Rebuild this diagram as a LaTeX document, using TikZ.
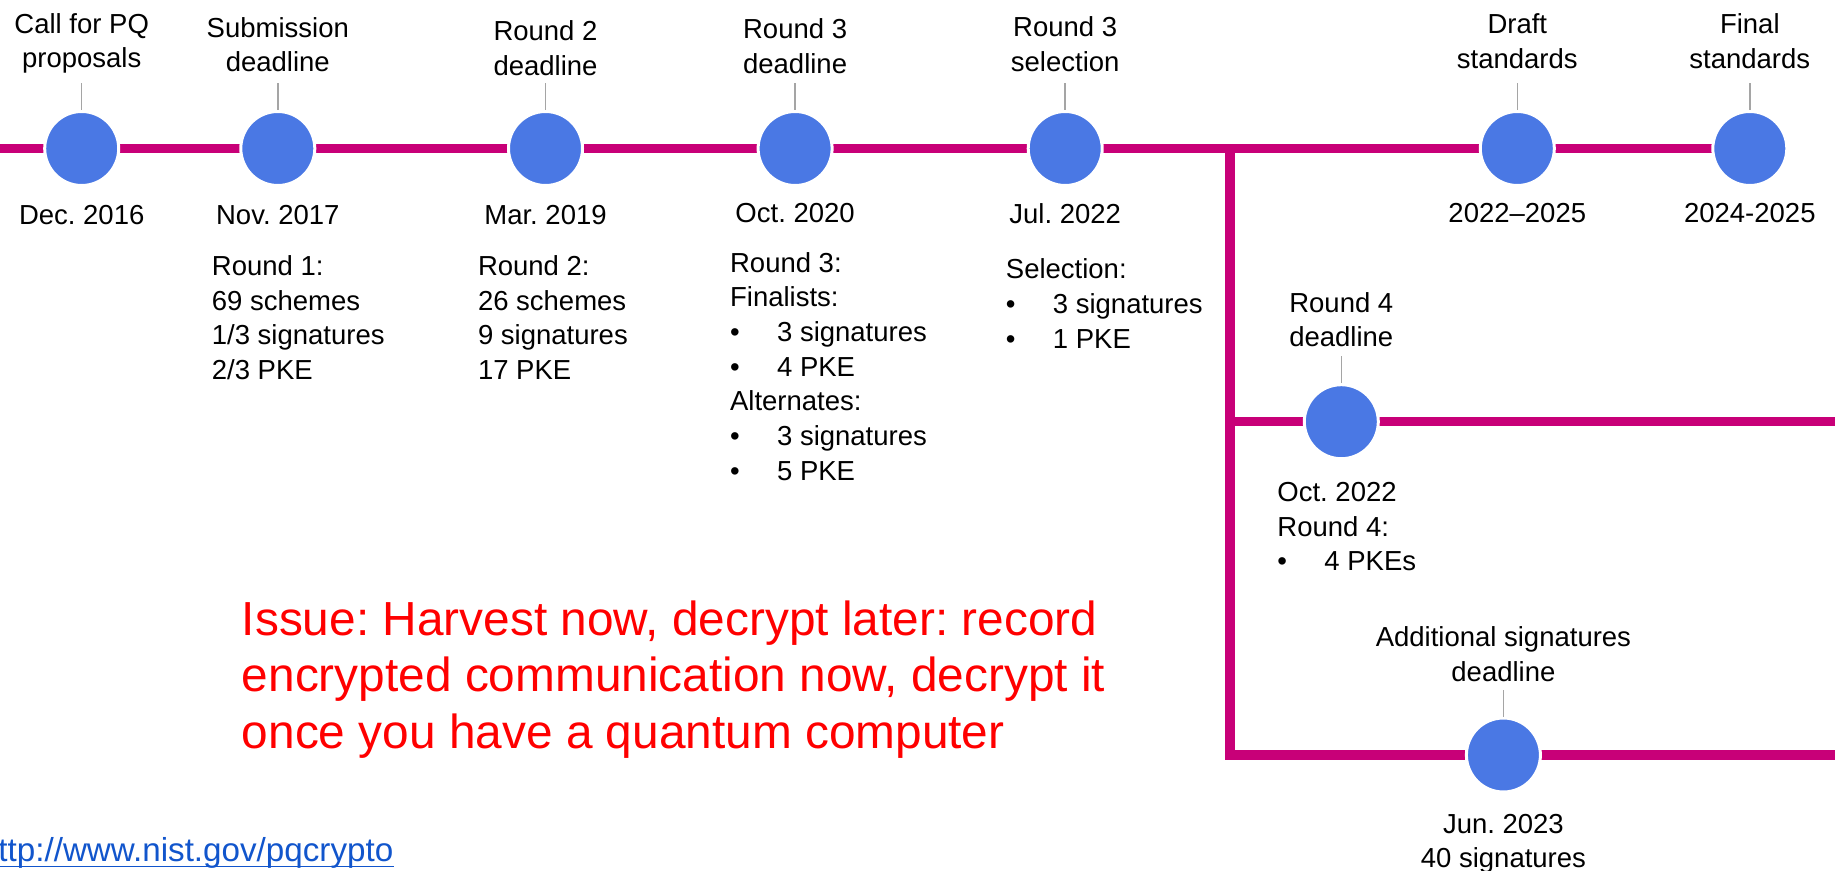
\documentclass[tikz,border=0pt]{standalone}
\usepackage{fontspec}
\setmainfont{Liberation Sans}
\usetikzlibrary{calc, backgrounds}
\definecolor{tlpink}{RGB}{200,0,120}
\definecolor{tlblue}{RGB}{74,120,228}
\definecolor{tlgray}{RGB}{165,165,165}
\definecolor{tlurl}{RGB}{17,85,204}
\newcommand{\tlitem}[1]{\makebox[23.5pt][l]{\textbullet}#1}
\frenchspacing

\begin{document}
\begin{tikzpicture}[x=0.5pt, y=-0.5pt,
  dot/.style={circle, fill=tlblue, draw=white, line width=1.5pt, minimum size=37pt, inner sep=0pt},
  track/.style={tlpink, line width=4.75pt},
  tick/.style={tlgray, line width=0.75pt},
  lbl/.style={font=\fontsize{13.75}{17.35}\selectfont, inner sep=0pt, align=center, anchor=north},
  blk/.style={font=\fontsize{13.75}{17.35}\selectfont, inner sep=0pt, align=left, anchor=north west},
  warn/.style={font=\fontsize{23.9}{28.4}\selectfont, text=red, inner sep=0pt, align=left, anchor=north west}]
\clip (0,0) rectangle (1835,871);

% milestones
\node[dot] at (81.7,148.5) (d1) {};
\node[dot] at (277.8,148.5) (d2) {};
\node[dot] at (545.5,148.5) (d3) {};
\node[dot] at (795.1,148.5) (d4) {};
\node[dot] at (1065.2,148.5) (d5) {};
\node[dot] at (1517.3,148.5) (d6) {};
\node[dot] at (1749.8,148.5) (d7) {};
\node[dot] at (1341.3,421.7) (d8) {};
\node[dot] at (1503.4,755) (d9) {};

% tracks
\coordinate (w) at (0,148.5);
\coordinate (j) at (1230,148.5);
\coordinate (j4) at (1230,421.7);
\coordinate (jb) at (1230,755);
\coordinate (e4) at (1845,421.7);
\coordinate (eb) at (1845,755);
\begin{pgfonlayer}{background}
\draw[track] (w) -- (d7.center);
\draw[track, line join=miter] (j) -- (jb) -- (eb);
\draw[track] (j4) -- (e4);
\end{pgfonlayer}

% labels above
\node[lbl] at (81.7,12.8) (t1) {Call for PQ\\proposals};
\node[lbl] at (277.8,16.8) (t2) {Submission\\deadline};
\node[lbl] at (545.5,20.1) (t3) {Round 2\\deadline};
\node[lbl] at (795.1,18.1) (t4) {Round 3\\deadline};
\node[lbl] at (1065.2,16.1) (t5) {Round 3\\selection};
\node[lbl] at (1517.3,13.4) (t6) {Draft\\standards};
\node[lbl] at (1749.8,13.1) (t7) {Final\\standards};
\node[lbl] at (1341.3,291.8) (t8) {Round 4\\deadline};
\node[lbl] at (1503.4,626.1) (t9) {Additional signatures\\deadline};
\foreach \d in {d1,d2,d3,d4,d5,d6,d7,d8,d9}
  \draw[tick] (\d.north) -- ++(0,-27);

% dates
\node[lbl] at (81.7,205) (w1) {Dec. 2016};
\node[lbl] at (277.8,205) (w2) {Nov. 2017};
\node[lbl] at (545.5,205) (w3) {Mar. 2019};
\node[lbl] at (795.1,203.4) (w4) {Oct. 2020};
\node[lbl] at (1065.2,203.4) (w5) {Jul. 2022};
\node[lbl] at (1517.3,203.4) (w6) {2022–2025};
\node[lbl] at (1749.8,203.4) (w7) {2024-2025};
\node[lbl] at (1503.4,813.4) (w9) {Jun. 2023\\40 signatures};

% round details
\node[blk] at (211.5,255) (r1) {Round 1:\\69 schemes\\1/3 signatures\\2/3 PKE};
\node[blk] at (477.6,255) (r2) {Round 2:\\26 schemes\\9 signatures\\17 PKE};
\node[blk] at (729.7,251.8) (r3) {Round 3:\\Finalists:\\\tlitem{3 signatures}\\\tlitem{4 PKE}\\Alternates:\\\tlitem{3 signatures}\\\tlitem{5 PKE}};
\node[blk] at (1005.5,258.4) (r5) {Selection:\\\tlitem{3 signatures}\\\tlitem{1 PKE}};
\node[blk] at (1277,481.8) (r4) {Oct. 2022\\Round 4:\\\tlitem{4 PKEs}};

% note and link
\node[warn] at (241.5,600) (note) {Issue: Harvest now, decrypt later: record\\encrypted communication now, decrypt it\\once you have a quantum computer};
\node[font=\fontsize{16.6}{19}\selectfont, text=tlurl, inner sep=0pt, anchor=base west] at (-2,861) (url) {ttp://www.nist.gov/pqcrypto};
\draw[tlurl, line width=0.75pt] ($(url.base west)+(0,5.7)$) -- ($(url.base east)+(0,5.7)$);
\end{tikzpicture}
\end{document}
